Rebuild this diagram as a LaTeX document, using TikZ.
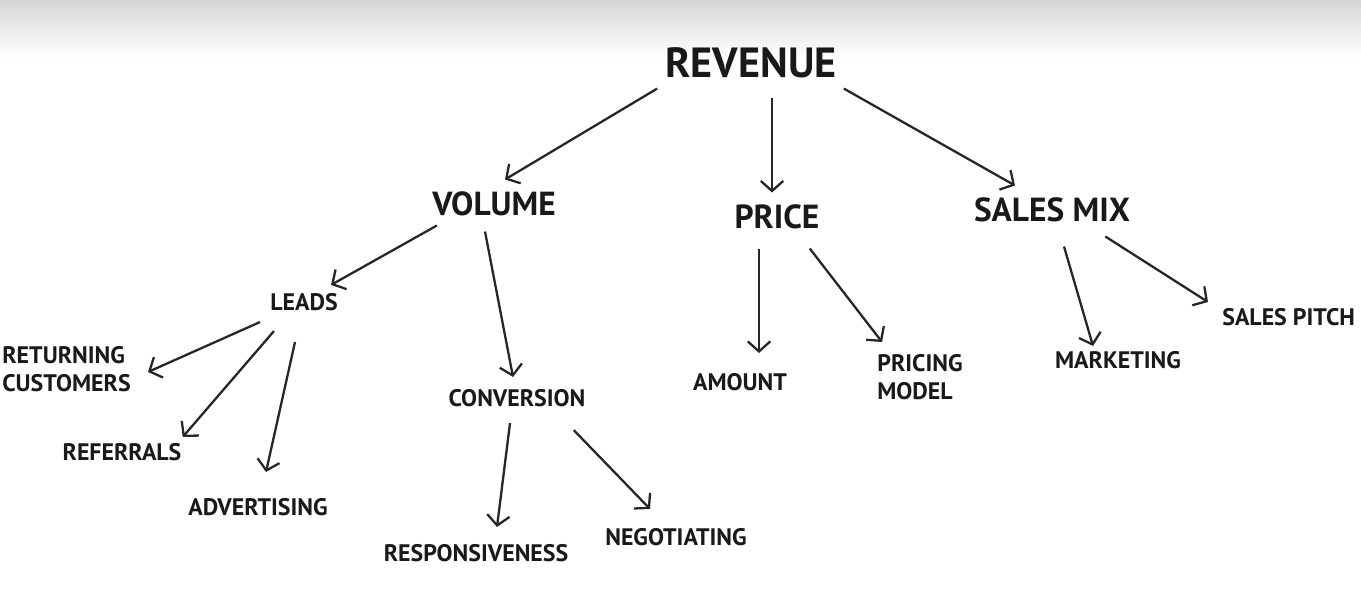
\documentclass[tikz,border=0pt]{standalone}
\usepackage{fontspec}
\setmainfont{PT Sans}
\usepackage{tikz}
\usetikzlibrary{arrows.meta, calc}

\begin{document}
\begin{tikzpicture}[x=0.02cm, y=-0.02cm,
    every node/.style={inner sep=0pt, text=black!90, font=\bfseries},
    top/.style={font=\fontsize{24}{29}\selectfont\bfseries},
    mid/.style={font=\fontsize{19}{23}\selectfont\bfseries},
    leaf/.style={font=\fontsize{13.6}{16}\selectfont\bfseries},
    arr/.style={draw=black!85, line width=1.3pt, -{Straight Barb[length=0.2cm, width=0.45cm, line width=1.3pt]}}]
    % page and the grey shade along the top
    \useasboundingbox (0,0) rectangle (1361,595);
    \clip (0,0) rectangle (1361,595);
    \fill[white] (0,0) rectangle (1361,595);
    \shade[top color=black!16, bottom color=white] (0,0) rectangle (1361,58);

    \node[top] (revenue) at (751,63) {REVENUE};
    \node[mid] (volume) at (494,204) {VOLUME};
    \node[mid] (price) at (777,217) {PRICE};
    \node[mid] (salesmix) at (1052,210) {SALES MIX};
    \node[leaf] (leads) at (304,302) {LEADS};
    \node[leaf] (conversion) at (517,398) {CONVERSION};
    \node[leaf, align=left, anchor=north west] (returning) at (2,346) {RETURNING\\CUSTOMERS};
    \node[leaf] (referrals) at (122,452) {REFERRALS};
    \node[leaf] (advertising) at (258,507) {ADVERTISING};
    \node[leaf] (responsiveness) at (476,553) {RESPONSIVENESS};
    \node[leaf] (negotiating) at (676,537) {NEGOTIATING};
    \node[leaf] (amount) at (740,382) {AMOUNT};
    \node[leaf, align=left, anchor=north west] (pricing) at (877,354) {PRICING\\MODEL};
    \node[leaf] (marketing) at (1118,360) {MARKETING};
    \node[leaf, anchor=west] (salespitch) at (1222,317) {SALES PITCH};

    \draw[arr] ($(revenue.south west)+(-8,10)$) -- ($(volume.north)+(11,-12)$);
    \draw[arr] ($(revenue.south)+(21,19)$) -- ($(price.north)+(-5,-12)$);
    \draw[arr] ($(revenue.south east)+(7,10)$) -- ($(salesmix.north)+(-37,-12)$);
    \draw[arr] ($(volume.south west)+(5,9)$) -- ($(leads.north east)+(-7,-8)$);
    \draw[arr] ($(volume.south)+(-9,15)$) -- ($(conversion.north)+(-4,-12)$);
    \draw[arr] ($(leads.south west)+(-10,11)$) -- ($(returning.north east)+(17,26)$);
    \draw[arr] ($(leads.south west)+(4,20)$) -- ($(referrals.north east)+(1,-6)$);
    \draw[arr] ($(leads.south)+(-9,31)$) -- ($(advertising.north)+(8,-26)$);
    \draw[arr] ($(conversion.south)+(-7,16)$) -- ($(responsiveness.north)+(21,-17)$);
    \draw[arr] ($(conversion.south east)+(-12,23)$) -- ($(negotiating.north)+(-26,-19)$);
    \draw[arr] ($(price.south)+(-18,19)$) -- ($(amount.north)+(19,-20)$);
    \draw[arr] ($(price.south east)+(-10,19)$) -- ($(pricing.north west)+(5,-12)$);
    \draw[arr] ($(salesmix.south)+(12,24)$) -- ($(marketing.north)+(-25,-5)$);
    \draw[arr] ($(salesmix.south east)+(-25,14)$) -- ($(salespitch.west)+(-14,-15)$);
\end{tikzpicture}
\end{document}
